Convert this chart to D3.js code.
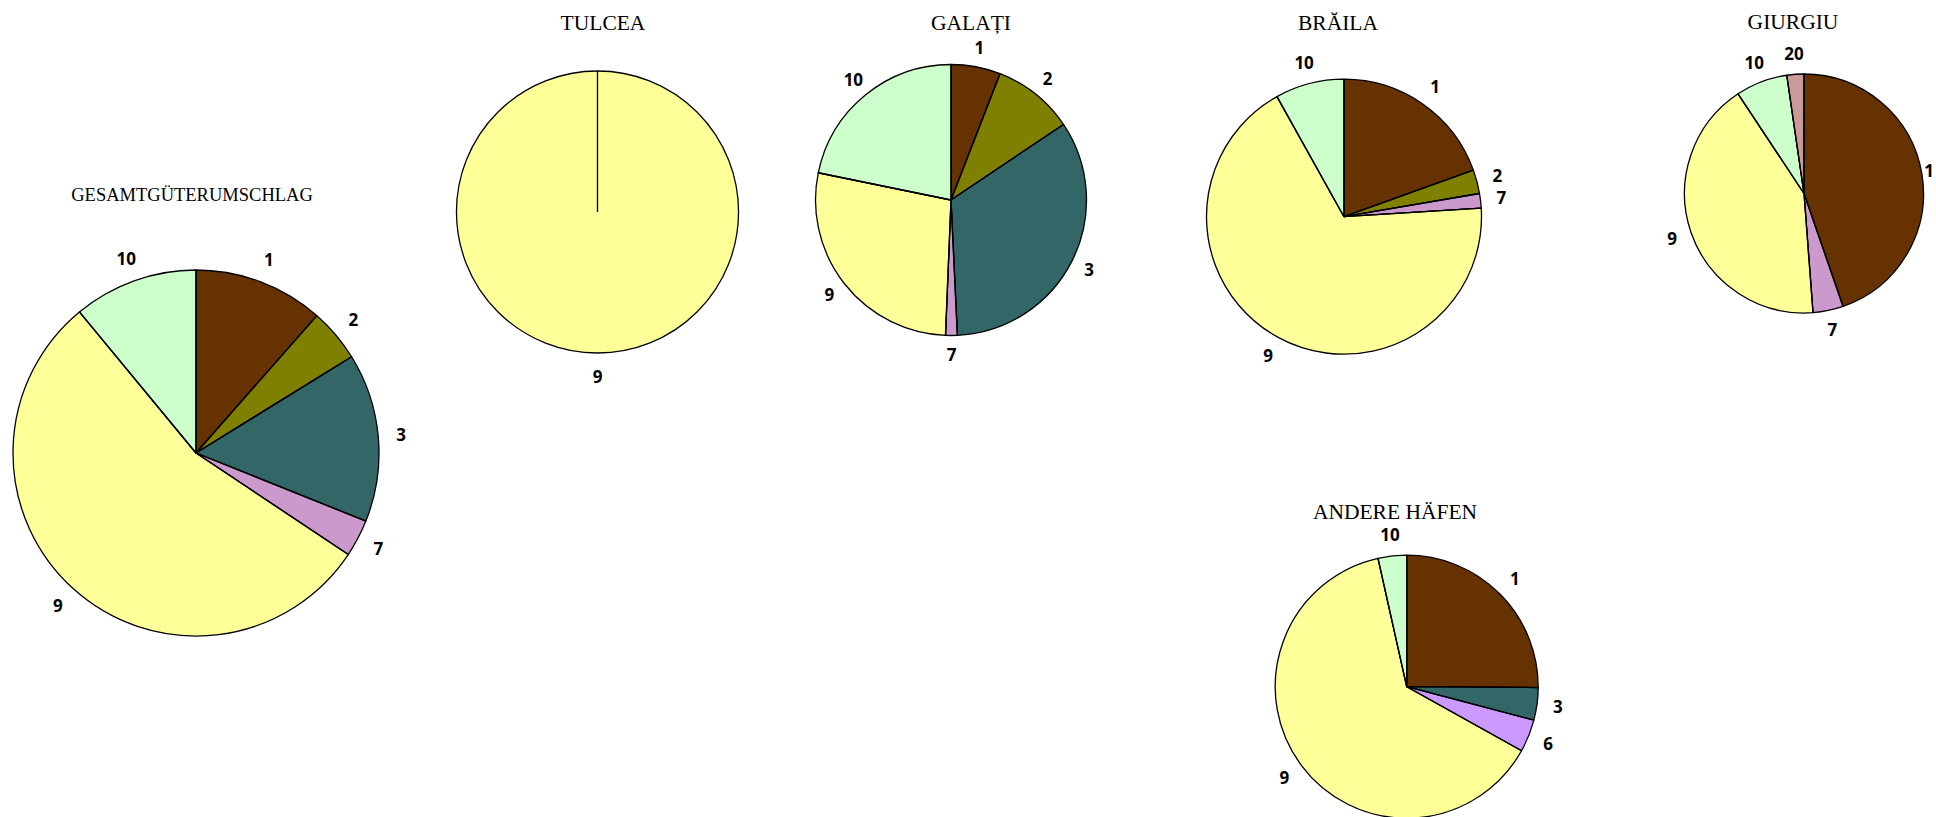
<!DOCTYPE html>
<html>
<head>
<meta charset="utf-8">
<script src="https://cdn.jsdelivr.net/npm/d3@7"></script>
<style>
  html, body { margin: 0; padding: 0; background: #ffffff; overflow: hidden; }
  svg { display: block; }
</style>
</head>
<body>
<svg id="chart" width="1936" height="817"></svg>
<script>
// ---------- DATA (shares in %) ----------
const gesamtCategories  = ["1", "2", "3", "7", "9", "10"];
const gesamtValues      = [11.5, 4.7, 14.9, 3.3, 54.7, 11.0];

const tulceaCategories  = ["9"];
const tulceaValues      = [100];

const galatiCategories  = ["1", "2", "3", "7", "9", "10"];
const galatiValues      = [5.9, 9.7, 33.7, 1.4, 27.6, 21.8];

const brailaCategories  = ["1", "2", "7", "9", "10"];
const brailaValues      = [19.5, 2.8, 1.7, 67.9, 8.1];

const giurgiuCategories = ["1", "7", "9", "10", "20"];
const giurgiuValues     = [44.7, 4.1, 41.9, 7.0, 2.3];

const andereCategories  = ["1", "3", "6", "9", "10"];
const andereValues      = [25.1, 4.0, 4.0, 63.4, 3.5];

const chartTitles = ["GESAMTGÜTERUMSCHLAG", "TULCEA", "GALAȚI", "BRĂILA", "GIURGIU", "ANDERE HÄFEN"];

// ---------- STYLES ----------
const categoryColors = {
  "1": "#663300", "2": "#808000", "3": "#336666", "6": "#CC99FF",
  "7": "#CC99CC", "9": "#FFFF99", "10": "#CCFFCC", "20": "#CC9999"
};

// ---------- LAYOUT ----------
const W = 1936;
const layout = [
  { cx: 196,    cy: 453,   r: 183,   lo: 23, tx: 192,  ty: 201,   ts: 18.5 },
  { cx: 597.5,  cy: 212,   r: 141,   lo: 24, tx: 603,  ty: 30,    ts: 21.5 },
  { cx: 951,    cy: 200,   r: 135.5, lo: 19, tx: 971,  ty: 30,    ts: 21.5 },
  { cx: 1344,   cy: 216.7, r: 137.5, lo: 21, tx: 1338, ty: 30,    ts: 21.5 },
  { cx: 1804,   cy: 193.5, r: 119.5, lo: 20, tx: 1793, ty: 28.5,  ts: 21.5 },
  { cx: 1406.7, cy: 686.7, r: 131.5, lo: 21, tx: 1395, ty: 518.5, ts: 21.5 }
];

const datasets = [
  [gesamtCategories, gesamtValues],
  [tulceaCategories, tulceaValues],
  [galatiCategories, galatiValues],
  [brailaCategories, brailaValues],
  [giurgiuCategories, giurgiuValues],
  [andereCategories, andereValues]
];

const svg = d3.select("#chart");
const color = d3.scaleOrdinal()
  .domain(Object.keys(categoryColors))
  .range(Object.values(categoryColors));

const pie = d3.pie().sort(null).value(d => d.v);

datasets.forEach(([cats, vals], i) => {
  const L = layout[i];
  const data = cats.map((c, k) => ({ c, v: vals[k] }));
  const arcs = pie(data);
  const arc = d3.arc().innerRadius(0).outerRadius(L.r);
  const labelArc = d3.arc().innerRadius(L.r + L.lo).outerRadius(L.r + L.lo);

  // title
  svg.append("text")
    .attr("x", L.tx).attr("y", L.ty)
    .attr("text-anchor", "middle")
    .style("font-family", "'Liberation Serif', 'Times New Roman', serif")
    .style("font-size", L.ts + "px")
    .style("fill", "#000")
    .text(chartTitles[i]);

  const g = svg.append("g").attr("transform", `translate(${L.cx},${L.cy})`);

  g.selectAll("path.slice").data(arcs).join("path")
    .attr("class", "slice")
    .attr("d", arc)
    .attr("fill", d => color(d.data.c))
    .attr("stroke", "#000")
    .attr("stroke-width", 1.3)
    .attr("stroke-linejoin", "round");

  // slice borders (radial edges), as Excel draws them
  g.selectAll("line.edge").data(arcs).join("line")
    .attr("class", "edge")
    .attr("x1", 0).attr("y1", 0)
    .attr("x2", d => d3.pointRadial(d.startAngle, L.r)[0])
    .attr("y2", d => d3.pointRadial(d.startAngle, L.r)[1])
    .attr("stroke", "#000")
    .attr("stroke-width", 1.3);

  g.selectAll("text.lbl").data(arcs).join("text")
    .attr("class", "lbl")
    .attr("transform", d => `translate(${labelArc.centroid(d)})`)
    .attr("text-anchor", "middle")
    .attr("dy", "0.36em")
    .style("font-family", "'Open Sans', 'DejaVu Sans', sans-serif")
    .style("font-weight", "bold")
    .style("font-size", "17px")
    .style("fill", "#000")
    .text(d => d.data.c)
    .each(function(d) {
      // keep labels inside the window
      const bb = this.getBBox();
      const c = labelArc.centroid(d);
      const right = L.cx + c[0] + bb.width / 2;
      if (right > W - 2) {
        c[0] -= right - (W - 2);
        d3.select(this).attr("transform", `translate(${c})`);
      }
    });
});
</script>
</body>
</html>
